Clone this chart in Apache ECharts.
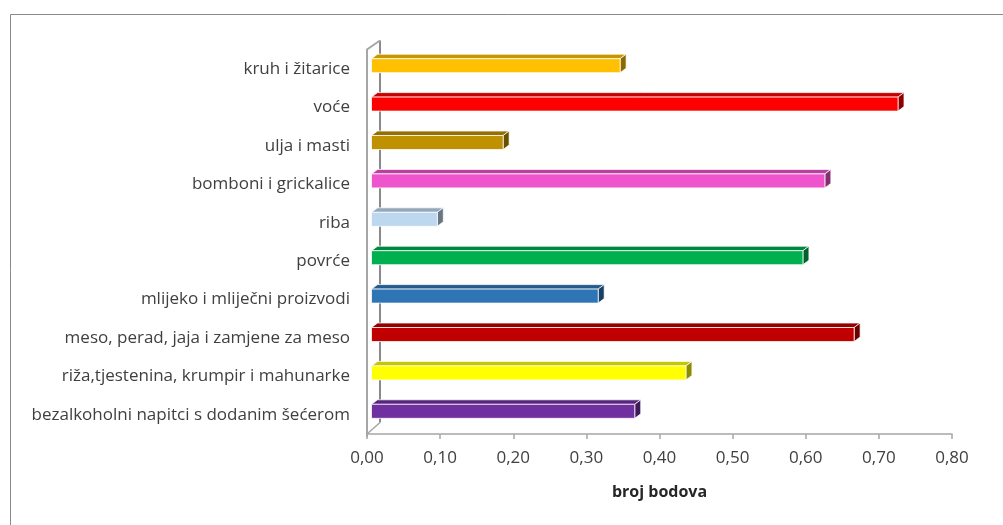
<!DOCTYPE html>
<html>
<head>
<meta charset="utf-8">
<script src="https://cdn.jsdelivr.net/npm/echarts@6/dist/echarts.min.js"></script>
<style>
  html, body { margin: 0; padding: 0; background: #fff; }
  #chart { width: 1003px; height: 525px; }
</style>
</head>
<body>
<div id="chart"></div>
<script>
// ---- data (top to bottom) ----
const categories = [
  'kruh i žitarice',
  'voće',
  'ulja i masti',
  'bomboni i grickalice',
  'riba',
  'povrće',
  'mlijeko i mliječni proizvodi',
  'meso, perad, jaja i zamjene za meso',
  'riža,tjestenina, krumpir i mahunarke',
  'bezalkoholni napitci s dodanim šećerom'
];
const values = [0.34, 0.72, 0.18, 0.62, 0.09, 0.59, 0.31, 0.66, 0.43, 0.36];
const xTicks = [0, 0.1, 0.2, 0.3, 0.4, 0.5, 0.6, 0.7, 0.8];
const axisTitle = 'broj bodova';

// ---- styles ----
const colors = ['#FFC000', '#FF0000', '#BF9000', '#EE55CC', '#BDD7EE',
                '#00B050', '#2E75B6', '#C00000', '#FFFF00', '#7030A0'];

function shade(hex, f) {
  const n = parseInt(hex.slice(1), 16);
  const r = Math.round(((n >> 16) & 255) * f);
  const g = Math.round(((n >> 8) & 255) * f);
  const b = Math.round((n & 255) * f);
  return 'rgb(' + r + ',' + g + ',' + b + ')';
}

const FONT = '"Open Sans", Lato, sans-serif';
const chart = echarts.init(document.getElementById('chart'), null, { renderer: 'canvas' });

const barData = values.map((v, i) => [v, i]);

function renderBar(params, api) {
  const v = api.value(0);
  const ci = api.value(1);
  const p0 = api.coord([0, ci]);
  const p1 = api.coord([v, ci]);
  const h = 14, ox = 4.5, oy = -3.5, dx = 6, dy = -4.5;
  const x = p0[0] + ox;
  const y = p0[1] + oy - h / 2;
  const w = p1[0] - p0[0];
  const c = colors[ci];
  const edge = { stroke: 'rgba(255,255,255,0.75)', lineWidth: 1 };
  return {
    type: 'group',
    children: [
      { type: 'polygon',
        shape: { points: [[x, y], [x + dx, y + dy], [x + w + dx, y + dy], [x + w, y]] },
        style: Object.assign({ fill: shade(c, 0.78) }, edge) },
      { type: 'polygon',
        shape: { points: [[x + w, y], [x + w + dx, y + dy], [x + w + dx, y + h + dy], [x + w, y + h]] },
        style: Object.assign({ fill: shade(c, 0.55) }, edge) },
      { type: 'rect',
        shape: { x: x, y: y, width: w, height: h },
        style: Object.assign({ fill: c }, edge) }
    ]
  };
}

function renderWall(params, api) {
  const cs = params.coordSys;
  const x0 = cs.x, yT = cs.y, yB = cs.y + cs.height;
  const bx = 13, byT = -9.5, byB = -11.5;
  return {
    type: 'group',
    children: [
      { type: 'line', shape: { x1: x0 + bx, y1: yT + byT, x2: x0 + bx, y2: yB + byB },
        style: { stroke: '#8A8A8A', lineWidth: 2 } },
      { type: 'polyline', shape: { points: [[x0, yB + 3], [x0, yT - 0.5], [x0 + bx, yT + byT]] },
        style: { stroke: '#A6A6A6', lineWidth: 2, fill: null } },
      { type: 'line', shape: { x1: x0, y1: yB, x2: x0 + bx, y2: yB + byB },
        style: { stroke: '#A6A6A6', lineWidth: 1.5 } }
    ]
  };
}

const option = {
  animation: false,
  backgroundColor: '#ffffff',
  graphic: [{
    type: 'rect', left: 8, top: 12, shape: { width: 1010, height: 530 },
    style: { fill: null, stroke: '#898989', lineWidth: 1 }, silent: true
  }],
  grid: { left: 367, right: 51, top: 50, bottom: 91 },
  xAxis: {
    type: 'value', min: 0, max: 0.8, interval: 0.1,
    splitLine: { show: false },
    axisLine: { show: true, lineStyle: { color: '#A6A6A6', width: 1.5 } },
    axisTick: { show: true, length: 5, lineStyle: { color: '#A6A6A6', width: 1.5 } },
    axisLabel: {
      margin: 16, color: '#404040', fontFamily: FONT, fontSize: 17,
      formatter: v => {
        const t = xTicks.find(k => Math.abs(k - v) < 1e-9);
        return (t !== undefined ? t : v).toFixed(2).replace('.', ',');
      }
    },
    name: axisTitle, nameLocation: 'middle', nameGap: 50,
    nameTextStyle: { color: '#262626', fontFamily: FONT, fontSize: 16, fontWeight: 'bold' }
  },
  yAxis: {
    type: 'category', data: categories, inverse: true,
    axisLine: { show: false }, axisTick: { show: false },
    axisLabel: { margin: 17, color: '#404040', fontFamily: FONT, fontSize: 17 }
  },
  series: [
    { type: 'custom', renderItem: renderWall, data: [[0, 0]], z: 1, silent: true,
      encode: { x: 0, y: 1 } },
    { type: 'custom', renderItem: renderBar, data: barData, z: 2,
      encode: { x: 0, y: 1 } }
  ]
};
chart.setOption(option);
</script>
</body>
</html>
